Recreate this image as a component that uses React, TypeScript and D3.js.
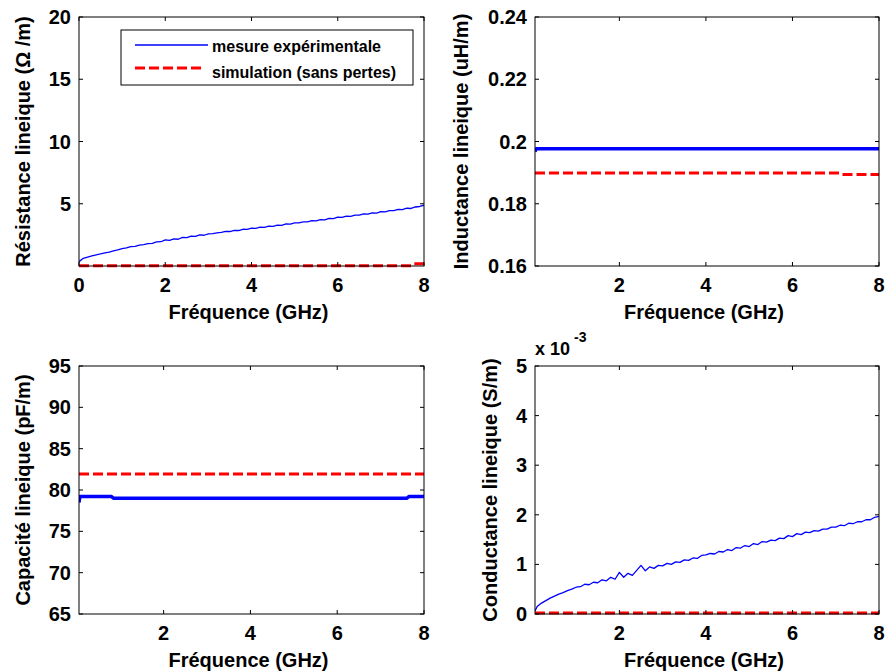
import React from 'react';
import * as d3 from 'd3';

// ---------- data ----------
const FREQ = [
  0.0, 0.1, 0.2, 0.3, 0.4, 0.5, 0.6, 0.7, 0.8, 0.9,
  1.0, 1.1, 1.2, 1.3, 1.4, 1.5, 1.6, 1.7, 1.8, 1.9,
  2.0, 2.1, 2.2, 2.3, 2.4, 2.5, 2.6, 2.7, 2.8, 2.9,
  3.0, 3.1, 3.2, 3.3, 3.4, 3.5, 3.6, 3.7, 3.8, 3.9,
  4.0, 4.1, 4.2, 4.3, 4.4, 4.5, 4.6, 4.7, 4.8, 4.9,
  5.0, 5.1, 5.2, 5.3, 5.4, 5.5, 5.6, 5.7, 5.8, 5.9,
  6.0, 6.1, 6.2, 6.3, 6.4, 6.5, 6.6, 6.7, 6.8, 6.9,
  7.0, 7.1, 7.2, 7.3, 7.4, 7.5, 7.6, 7.7, 7.8, 7.9, 8.0,
];

const R_MEAS = [
  0.35, 0.62, 0.72, 0.82, 0.90, 0.97, 1.05, 1.12, 1.22, 1.30,
  1.40, 1.45, 1.55, 1.58, 1.68, 1.72, 1.80, 1.82, 1.93, 1.95,
  2.10, 2.06, 2.18, 2.15, 2.30, 2.28, 2.40, 2.38, 2.50, 2.47,
  2.58, 2.60, 2.66, 2.70, 2.78, 2.77, 2.86, 2.85, 2.95, 2.94,
  3.04, 3.03, 3.12, 3.10, 3.20, 3.19, 3.28, 3.27, 3.38, 3.36,
  3.47, 3.46, 3.55, 3.54, 3.64, 3.62, 3.72, 3.70, 3.82, 3.80,
  3.92, 3.90, 4.00, 3.99, 4.09, 4.08, 4.18, 4.16, 4.27, 4.25,
  4.36, 4.35, 4.45, 4.44, 4.54, 4.53, 4.64, 4.62, 4.74, 4.78, 4.88,
];
const R_SIM_F = [0.0, 7.7, 7.75, 8.0];
const R_SIM = [0.03, 0.03, 0.18, 0.18];

const L_MEAS_F = [0.05, 0.08, 0.1, 8.0];
const L_MEAS = [0.1968, 0.1977, 0.1977, 0.1977];
const L_SIM_F = [0.05, 7.1, 7.15, 8.0];
const L_SIM = [0.1899, 0.1899, 0.1894, 0.1894];

const C_MEAS_F = [0.05, 0.07, 0.8, 0.85, 7.6, 7.65, 8.0];
const C_MEAS = [78.5, 79.2, 79.2, 79.0, 79.0, 79.2, 79.2];
const C_SIM_F = [0.05, 8.0];
const C_SIM = [81.95, 81.95];

const G_FREQ = [0.05, ...FREQ.slice(1)];
const G_MEAS = [
  0.06, 0.15, 0.22, 0.27, 0.32, 0.36, 0.40, 0.43, 0.47, 0.50,
  0.54, 0.55, 0.60, 0.59, 0.64, 0.63, 0.69, 0.67, 0.74, 0.70,
  0.84, 0.74, 0.82, 0.78, 0.88, 0.98, 0.87, 0.95, 0.92, 0.98,
  0.97, 1.02, 1.00, 1.05, 1.04, 1.09, 1.08, 1.13, 1.12, 1.18,
  1.19, 1.22, 1.21, 1.26, 1.25, 1.30, 1.28, 1.34, 1.33, 1.38,
  1.36, 1.42, 1.40, 1.46, 1.45, 1.49, 1.48, 1.53, 1.52, 1.58,
  1.56, 1.62, 1.60, 1.65, 1.64, 1.68, 1.67, 1.71, 1.71, 1.75,
  1.75, 1.79, 1.78, 1.83, 1.82, 1.86, 1.86, 1.90, 1.90, 1.95, 1.97,
];
const G_SIM_F = [0.05, 8.0];
const G_SIM = [0.02, 0.02];

const X_TICKS_0 = [0, 2, 4, 6, 8];
const X_TICKS = [2, 4, 6, 8];
const R_TICKS = [5, 10, 15, 20];
const L_TICKS = [0.16, 0.18, 0.2, 0.22, 0.24];
const C_TICKS = [65, 70, 75, 80, 85, 90, 95];
const G_TICKS = [0, 1, 2, 3, 4, 5];

const LEGEND_LABELS = ['mesure expérimentale', 'simulation (sans pertes)'];
const X_LABEL = 'Fréquence (GHz)';

const FONT = '"Liberation Sans", Arial, Helvetica, sans-serif';
const BLUE = '#0000ff';
const RED = '#ff0000';

type Series = { f: number[]; v: number[]; color: string; width: number; dash?: string };
type Panel = {
  left: number; top: number; right: number; bottom: number;
  xDomain: [number, number]; yDomain: [number, number];
  xTicks: number[]; yTicks: number[];
  yLabel: string; yLabelX: number;
  series: Series[];
};

const panels: Panel[] = [
  {
    left: 79, top: 17, right: 424, bottom: 266,
    xDomain: [0, 8], yDomain: [0, 20], xTicks: X_TICKS_0, yTicks: R_TICKS,
    yLabel: 'Résistance lineique (Ω /m)', yLabelX: 23,
    series: [
      { f: FREQ, v: R_MEAS, color: BLUE, width: 1.3 },
      { f: R_SIM_F, v: R_SIM, color: RED, width: 3, dash: '10,4' },
    ],
  },
  {
    left: 535, top: 17, right: 879, bottom: 266,
    xDomain: [0.05, 8], yDomain: [0.16, 0.24], xTicks: X_TICKS, yTicks: L_TICKS,
    yLabel: 'Inductance lineique (uH/m)', yLabelX: 461,
    series: [
      { f: L_MEAS_F, v: L_MEAS, color: BLUE, width: 3.5 },
      { f: L_SIM_F, v: L_SIM, color: RED, width: 3, dash: '10,4' },
    ],
  },
  {
    left: 79, top: 366, right: 424, bottom: 614,
    xDomain: [0.05, 8], yDomain: [65, 95], xTicks: X_TICKS, yTicks: C_TICKS,
    yLabel: 'Capacité lineique (pF/m)', yLabelX: 23,
    series: [
      { f: C_MEAS_F, v: C_MEAS, color: BLUE, width: 3.5 },
      { f: C_SIM_F, v: C_SIM, color: RED, width: 3, dash: '10,4' },
    ],
  },
  {
    left: 535, top: 366, right: 879, bottom: 614,
    xDomain: [0.05, 8], yDomain: [0, 5], xTicks: X_TICKS, yTicks: G_TICKS,
    yLabel: 'Conductance lineique (S/m)', yLabelX: 490,
    series: [
      { f: G_FREQ, v: G_MEAS, color: BLUE, width: 1.3 },
      { f: G_SIM_F, v: G_SIM, color: RED, width: 3, dash: '10,4' },
    ],
  },
];

function PanelView({ p, idx }: { p: Panel; idx: number }) {
  const xs = d3.scaleLinear().domain(p.xDomain).range([p.left, p.right]);
  const ys = d3.scaleLinear().domain(p.yDomain).range([p.bottom, p.top]);
  const line = d3.line<[number, number]>().x(d => xs(d[0])).y(d => ys(d[1]));
  const TL = 4;
  const clipId = `clip${idx}`;
  return (
    <g>
      <defs>
        <clipPath id={clipId}>
          <rect x={p.left} y={p.top - 2} width={p.right - p.left} height={p.bottom - p.top + 4} />
        </clipPath>
      </defs>
      <rect x={p.left} y={p.top} width={p.right - p.left} height={p.bottom - p.top} fill="#fff" />
      <g clipPath={`url(#${clipId})`}>
        {p.series.map((s, i) => (
          <path key={i}
            d={line(s.f.map((f, j) => [f, s.v[j]] as [number, number])) || ''}
            fill="none" stroke={s.color} strokeWidth={s.width}
            strokeDasharray={s.dash} strokeLinejoin="round" />
        ))}
      </g>
      <rect x={p.left} y={p.top} width={p.right - p.left} height={p.bottom - p.top}
        fill="none" stroke="#000" strokeWidth={1} />
      {p.xTicks.map(t => (
        <g key={'x' + t}>
          <line x1={xs(t)} x2={xs(t)} y1={p.bottom} y2={p.bottom - TL} stroke="#000" />
          <line x1={xs(t)} x2={xs(t)} y1={p.top} y2={p.top + TL} stroke="#000" />
          <text x={xs(t)} y={p.bottom + 26} textAnchor="middle" fontSize={20}
            fontWeight="bold" fontFamily={FONT}>{t}</text>
        </g>
      ))}
      {p.yTicks.map(t => (
        <g key={'y' + t}>
          <line x1={p.left} x2={p.left + TL} y1={ys(t)} y2={ys(t)} stroke="#000" />
          <line x1={p.right} x2={p.right - TL} y1={ys(t)} y2={ys(t)} stroke="#000" />
          <text x={p.left - 8} y={ys(t) + 7} textAnchor="end" fontSize={20}
            fontWeight="bold" fontFamily={FONT}>{t}</text>
        </g>
      ))}
      <text x={(p.left + p.right) / 2 - 3} y={p.bottom + 53} textAnchor="middle" fontSize={20}
        fontWeight="bold" fontFamily={FONT}>{X_LABEL}</text>
      <text transform={`translate(${p.yLabelX},${(p.top + p.bottom) / 2}) rotate(-90)`}
        dy="0.35em" textAnchor="middle" fontSize={20} fontWeight="bold"
        fontFamily={FONT}>{p.yLabel}</text>
    </g>
  );
}

export default function App() {
  return (
    <svg width={887} height={672} style={{ position: 'absolute', left: 0, top: 0, background: '#fff' }}>
      <rect x={0} y={0} width={887} height={672} fill="#fff" />
      {panels.map((p, i) => <PanelView key={i} p={p} idx={i} />)}
      {/* legend */}
      <g>
        <rect x={121} y={30} width={292} height={55} fill="#fff" stroke="#000" strokeWidth={1} />
        <line x1={135} x2={208} y1={45} y2={45} stroke={BLUE} strokeWidth={1.3} />
        <line x1={135} x2={205} y1={68} y2={68} stroke={RED} strokeWidth={3} strokeDasharray="10,4" />
        <text x={212} y={52} fontSize={16} fontWeight="bold" fontFamily={FONT}>{LEGEND_LABELS[0]}</text>
        <text x={212} y={78} fontSize={16} fontWeight="bold" fontFamily={FONT}>{LEGEND_LABELS[1]}</text>
      </g>
      {/* exponent for conductance */}
      <text x={535} y={355} fontSize={18} fontWeight="bold" fontFamily={FONT}>x 10</text>
      <text x={574} y={342} fontSize={14} fontWeight="bold" fontFamily={FONT}>-3</text>
    </svg>
  );
}
